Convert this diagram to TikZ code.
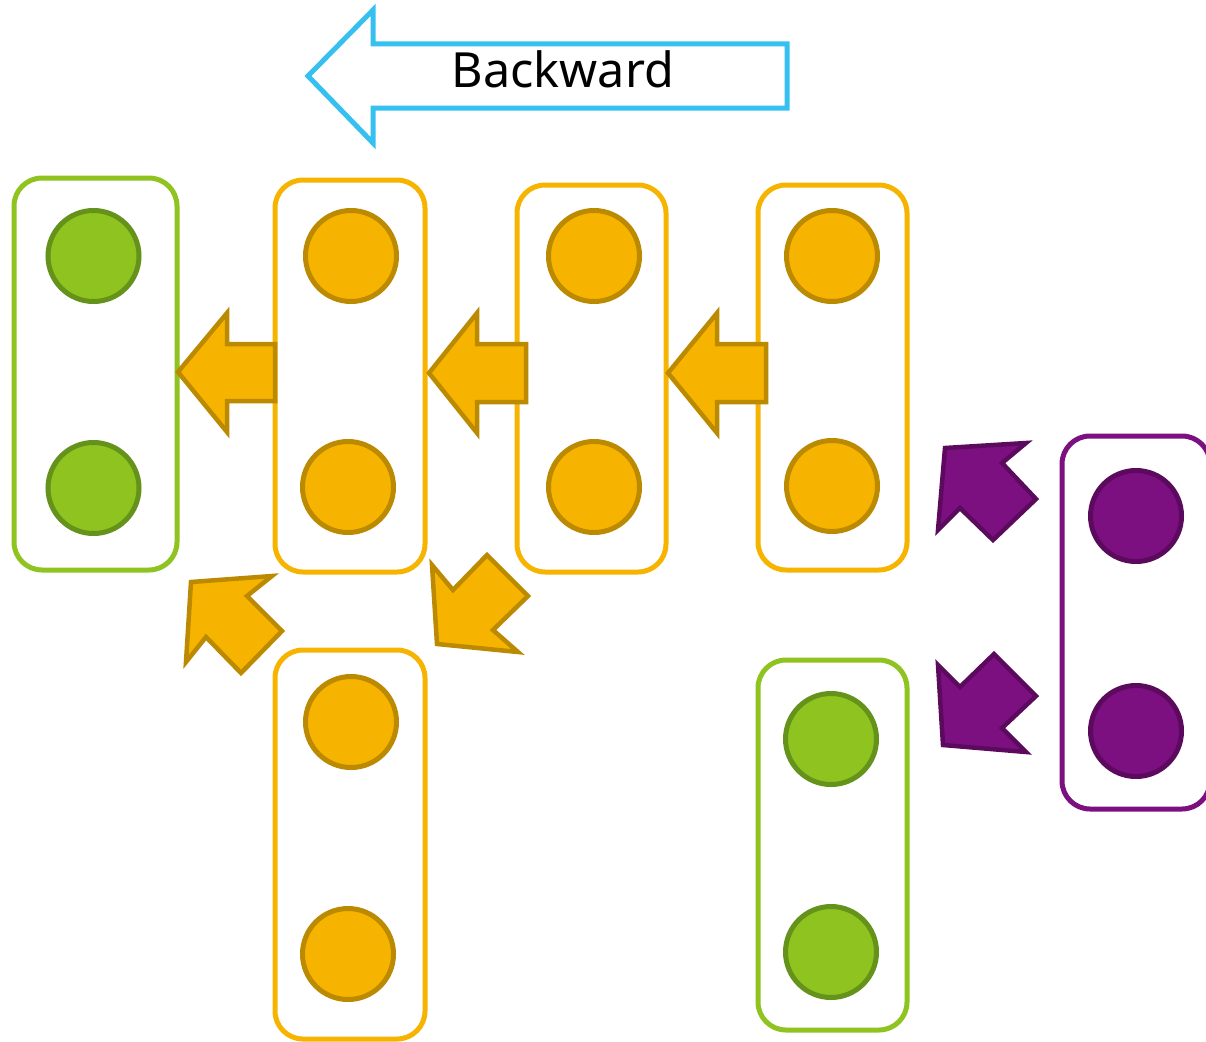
\documentclass[tikz,border=0pt]{standalone}
\usepackage{fontspec}
\setmainfont{Noto Sans}
\definecolor{leafgreen}{HTML}{8FC31F}
\definecolor{leafdark}{HTML}{64921A}
\definecolor{amber}{HTML}{F6B400}
\definecolor{amberdark}{HTML}{BC8A00}
\definecolor{plum}{HTML}{7D1080}
\definecolor{plumdark}{HTML}{5C0A5E}
\definecolor{sky}{HTML}{35C0F0}
\begin{document}
\begin{tikzpicture}[x=1pt,y=-1pt,
  layer/.style={draw, line width=5pt, rounded corners=28pt, inner sep=0pt, fill=white},
  unit/.style={circle, line width=5pt, minimum size=91pt, inner sep=0pt},
  gunit/.style={unit, fill=leafgreen, draw=leafdark},
  ounit/.style={unit, fill=amber, draw=amberdark},
  punit/.style={unit, fill=plum, draw=plumdark},
  oflow/.style={fill=amber, draw=amberdark, line width=4.5pt, line join=miter},
  pflow/.style={fill=plum, draw=plumdark, line width=4.5pt, line join=miter}]
\useasboundingbox (0,0) rectangle (1206,1041);

% direction banner
\draw[sky, line width=5pt, line join=miter, fill=white]
  (308,76) -- (373,10) -- (373,44) -- (787,44) -- (787,108) -- (373,108) -- (373,143) -- cycle;
\node[anchor=base, font=\fontsize{48.5}{58}\selectfont] (lbl) at (563,87) {Backward};

% layers
\node[layer, draw=leafgreen, minimum width=163pt, minimum height=392pt] (L1) at (95.5,374) {};
\node[layer, draw=amber, minimum width=150pt, minimum height=392pt] (L2) at (350,376) {};
\node[layer, draw=amber, minimum width=149pt, minimum height=387pt] (L3) at (591.5,378.5) {};
\node[layer, draw=amber, minimum width=149pt, minimum height=385pt] (L4) at (832.5,377.5) {};
\node[layer, draw=amber, minimum width=150pt, minimum height=389pt] (L5) at (350,844.5) {};
\node[layer, draw=leafgreen, minimum width=149pt, minimum height=370pt] (L6) at (832.5,845) {};
\node[layer, draw=plum, minimum width=148pt, minimum height=373pt] (L7) at (1136,622.5) {};

% units
\node[gunit] (u1a) at (93.5,256) {};
\node[gunit] (u1b) at (93.5,488) {};
\node[ounit] (u2a) at (351,256) {};
\node[ounit] (u2b) at (348,487) {};
\node[ounit] (u3a) at (594,256) {};
\node[ounit] (u3b) at (594,487) {};
\node[ounit] (u4a) at (832,256) {};
\node[ounit] (u4b) at (832,486) {};
\node[ounit] (u5a) at (351,722) {};
\node[ounit] (u5b) at (348,954) {};
\node[gunit] (u6a) at (831,739) {};
\node[gunit] (u6b) at (831,952) {};
\node[punit] (u7a) at (1136,516) {};
\node[punit] (u7b) at (1136,731) {};

% horizontal block arrows
\draw[oflow] (178,372) -- (227,313) -- (227,344) -- (275,344) -- (275,401) -- (227,401) -- (227,432) -- cycle;
\draw[oflow] (429,373) -- (477,313) -- (477,344) -- (526,344) -- (526,402) -- (477,402) -- (477,433) -- cycle;
\draw[oflow] (668,373) -- (717,313) -- (717,344) -- (766,344) -- (766,402) -- (717,402) -- (717,433) -- cycle;

% diagonal block arrows
\draw[oflow] (191,582) -- (272,576) -- (247,596) -- (282,631) -- (241,673) -- (206,637) -- (186,662) -- cycle;
\draw[oflow] (437,644) -- (432,565) -- (453,590) -- (487,555) -- (528,596) -- (493,630) -- (518,652) -- cycle;
\draw[pflow] (945,448) -- (1026,443) -- (1002,463) -- (1036,499) -- (993,540) -- (960,508) -- (938,530) -- cycle;
\draw[pflow] (943,745) -- (938,665) -- (960,687) -- (994,654) -- (1036,696) -- (1002,728) -- (1026,752) -- cycle;
\end{tikzpicture}
\end{document}
